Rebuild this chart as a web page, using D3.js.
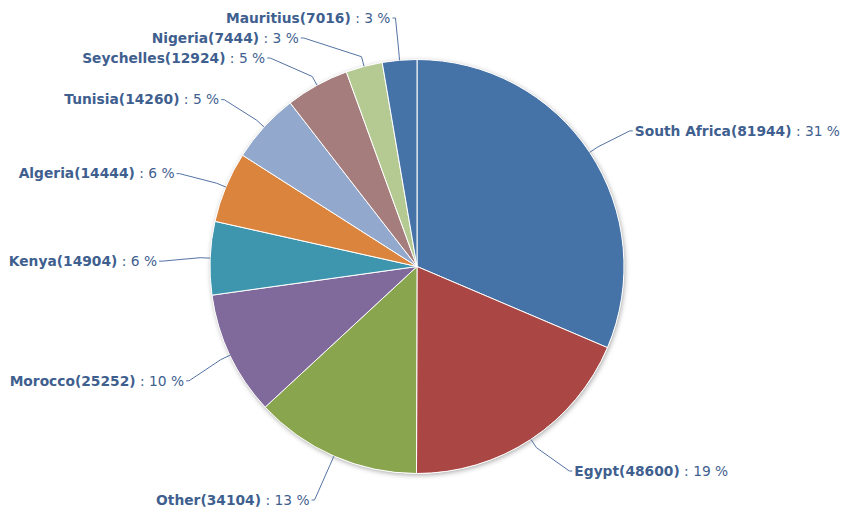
<!DOCTYPE html>
<html><head><meta charset="utf-8">
<script src="https://cdn.jsdelivr.net/npm/d3@7/dist/d3.min.js"></script>
<style>html,body{margin:0;padding:0;background:#fff;}svg{display:block;}</style>
</head><body>
<script>
const categories = ["South Africa","Egypt","Other","Morocco","Kenya","Algeria","Tunisia","Seychelles","Nigeria","Mauritius"];
const values = [81944,48600,34104,25252,14904,14444,14260,12924,7444,7016];
const colors = ["#4572A7","#AA4643","#89A54E","#80699B","#3D96AE","#DB843D","#92A8CD","#A47D7C","#B5CA92","#4572A7"];

const W = 845, H = 509;
const cx = 417, cy = 266.5, r = 207;
const labelR = 255, gap = 20, topY = 18, bottomLeft = 500, bottomRight = 471, yShift = 5;
const textColor = "#3F5F8F", lineColor = "#5474A4";

const svg = d3.select("body").append("svg").attr("width", W).attr("height", H);
const defs = svg.append("defs");
const f = defs.append("filter").attr("id","sh").attr("x","-10%").attr("y","-10%").attr("width","120%").attr("height","120%");
f.append("feDropShadow").attr("dx",1).attr("dy",1.5).attr("stdDeviation",2.5).attr("flood-color","#000").attr("flood-opacity",0.35);

const total = d3.sum(values);
const data = categories.map((c,i)=>({name:c, value:values[i], color:colors[i]}));
const arcs = d3.pie().sort(null).value(d=>d.value)(data);
const arc = d3.arc().innerRadius(0).outerRadius(r);

const g = svg.append("g").attr("transform",`translate(${cx},${cy})`);
g.append("circle").attr("r", r).attr("fill","#fff").attr("filter","url(#sh)");
g.selectAll("path.slice").data(arcs).join("path")
  .attr("class","slice")
  .attr("d", arc)
  .attr("fill", d=>d.data.color)
  .attr("stroke","#fff").attr("stroke-width",1).attr("stroke-linejoin","round");

// label layout
const labels = arcs.map(a=>{
  const m = (a.startAngle + a.endAngle)/2;
  const s = Math.sin(m), c = Math.cos(m);
  return {a, m, left: s < 0,
    ny: cy - labelR*c + yShift, nx: cx + labelR*s,
    ex: cx + r*s, ey: cy - r*c,
    bx: cx + (r+10)*s, by: cy - (r+10)*c};
});
function place(side, bottom){
  const L = labels.filter(d=>d.left===side).sort((p,q)=>p.ny-q.ny);
  L.forEach((d,i)=>{ d.y = Math.max(d.ny, topY, i? L[i-1].y+gap : topY); });
  for(let i=L.length-1;i>=0;i--){
    const lim = i===L.length-1 ? bottom : L[i+1].y-gap;
    if(lim < L[i].y) L[i].y = lim;
  }
  L.forEach((d,i)=>{
    const dy = d.y - cy;
    const dx = Math.sqrt(Math.max(0, labelR*labelR - dy*dy));
    d.x = i===0 ? d.nx : cx + (side? -dx : dx);
  });
}
place(true, bottomLeft); place(false, bottomRight);

svg.selectAll("path.conn").data(labels).join("path")
  .attr("class","conn")
  .attr("fill","none").attr("stroke",lineColor).attr("stroke-width",1)
  .attr("d", d=>{
    const sx = d.left ? d.x-3 : d.x+3;
    return `M${sx},${d.y}L${d.x},${d.y}L${d.bx},${d.by}L${d.ex},${d.ey}`;
  });

const t = svg.selectAll("text.lbl").data(labels).join("text")
  .attr("class","lbl")
  .attr("x", d=> d.left ? d.x-5 : d.x+5)
  .attr("y", d=> d.y)
  .attr("dy","0.35em")
  .attr("text-anchor", d=> d.left ? "end" : "start")
  .attr("font-family","'DejaVu Sans', sans-serif")
  .attr("font-size", 13.8)
  .attr("fill", textColor);
t.append("tspan").attr("font-weight","bold").text(d=>`${d.a.data.name}(${d.a.data.value})`);
t.append("tspan").text(d=>` : ${Math.round(d.a.data.value/total*100)} %`);
</script>
</body></html>
